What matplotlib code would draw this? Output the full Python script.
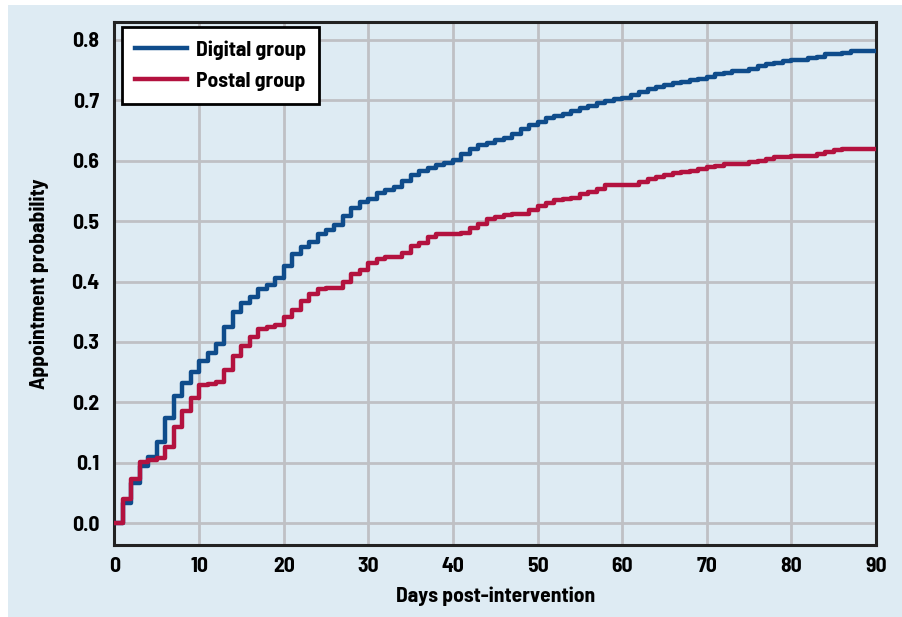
import numpy as np
import matplotlib.pyplot as plt
from matplotlib.patches import Rectangle

# days since the intervention (one step per day)
days = list(range(91))

digital = [
    0.000, 0.033, 0.066, 0.094, 0.109, 0.134, 0.174, 0.211, 0.232, 0.250,
    0.268, 0.281, 0.297, 0.324, 0.349, 0.365, 0.374, 0.387, 0.395, 0.406,
    0.426, 0.445, 0.457, 0.465, 0.478, 0.485, 0.493, 0.508, 0.521, 0.532,
    0.537, 0.546, 0.552, 0.557, 0.566, 0.576, 0.583, 0.588, 0.593, 0.596,
    0.601, 0.611, 0.620, 0.626, 0.630, 0.634, 0.638, 0.644, 0.652, 0.659,
    0.664, 0.670, 0.674, 0.678, 0.682, 0.688, 0.691, 0.695, 0.698, 0.702,
    0.704, 0.709, 0.714, 0.719, 0.722, 0.725, 0.728, 0.731, 0.733, 0.735,
    0.739, 0.744, 0.745, 0.748, 0.749, 0.752, 0.757, 0.760, 0.762, 0.765,
    0.766, 0.767, 0.770, 0.772, 0.776, 0.777, 0.778, 0.781, 0.782, 0.782,
    0.782,
]

postal = [
    0.000, 0.040, 0.074, 0.102, 0.105, 0.108, 0.126, 0.160, 0.185, 0.207,
    0.229, 0.231, 0.233, 0.254, 0.276, 0.294, 0.309, 0.322, 0.324, 0.328,
    0.341, 0.353, 0.367, 0.380, 0.387, 0.389, 0.389, 0.400, 0.413, 0.419,
    0.431, 0.438, 0.440, 0.440, 0.447, 0.458, 0.464, 0.473, 0.479, 0.479,
    0.479, 0.481, 0.488, 0.496, 0.503, 0.507, 0.510, 0.511, 0.511, 0.518,
    0.525, 0.530, 0.535, 0.537, 0.539, 0.545, 0.549, 0.553, 0.560, 0.560,
    0.560, 0.560, 0.564, 0.570, 0.573, 0.577, 0.580, 0.582, 0.583, 0.586,
    0.589, 0.592, 0.594, 0.594, 0.595, 0.597, 0.600, 0.603, 0.606, 0.606,
    0.607, 0.607, 0.607, 0.611, 0.614, 0.617, 0.620, 0.620, 0.620, 0.620,
    0.620,
]

x_ticks = list(range(0, 91, 10))
y_ticks = [0.0, 0.1, 0.2, 0.3, 0.4, 0.5, 0.6, 0.7, 0.8]

BG = '#deebf3'
BLUE = '#0f4c8b'
RED = '#b3123f'

plt.rcParams['font.family'] = ['Barlow Semi Condensed', 'DejaVu Sans']
plt.rcParams['font.weight'] = 'bold'

fig = plt.figure(figsize=(9.03, 6.17), dpi=100, facecolor='white')
# light blue panel behind the whole chart
fig.add_artist(Rectangle((8 / 903, 0), 1, 1 - 5 / 617, transform=fig.transFigure,
                         facecolor=BG, edgecolor='none', zorder=-10))

ax = fig.add_axes([114.5 / 903, 1 - 545 / 617, (876 - 114.5) / 903, (545 - 21.7) / 617])
ax.set_facecolor(BG)

ax.step(days, digital, where='post', color=BLUE, lw=3.2, label='Digital group', zorder=3)
ax.step(days, postal, where='post', color=RED, lw=3.2, label='Postal group', zorder=3)

ax.set_xlim(0, 90)
ax.set_ylim(-0.036, 0.83)
ax.set_xticks(x_ticks)
ax.set_yticks(y_ticks)
ax.set_yticklabels([f'{v:.1f}' for v in y_ticks])
ax.tick_params(length=0, labelsize=15.5, pad=9)
ax.tick_params(axis='y', pad=11)

ax.grid(True, color='#bfc0c4', lw=2.0, zorder=1)
ax.set_axisbelow(True)
for s in ax.spines.values():
    s.set_color('#222222')
    s.set_linewidth(2.2)

ax.set_xlabel('Days post-intervention', fontsize=15.5, fontweight='bold', labelpad=7)
ax.set_ylabel('Appointment probability', fontsize=15.5, fontweight='bold', labelpad=16)

leg = ax.legend(loc='upper left', bbox_to_anchor=(0.0098, 0.99), fontsize=15.5,
                fancybox=False, framealpha=1, edgecolor='black', borderpad=0.62,
                handlelength=2.4, handletextpad=0.4, labelspacing=0.55, borderaxespad=0)
leg.get_frame().set_linewidth(2.0)
for t in leg.get_texts():
    t.set_fontweight('bold')

fig.savefig('out.png', dpi=100, facecolor=fig.get_facecolor())
